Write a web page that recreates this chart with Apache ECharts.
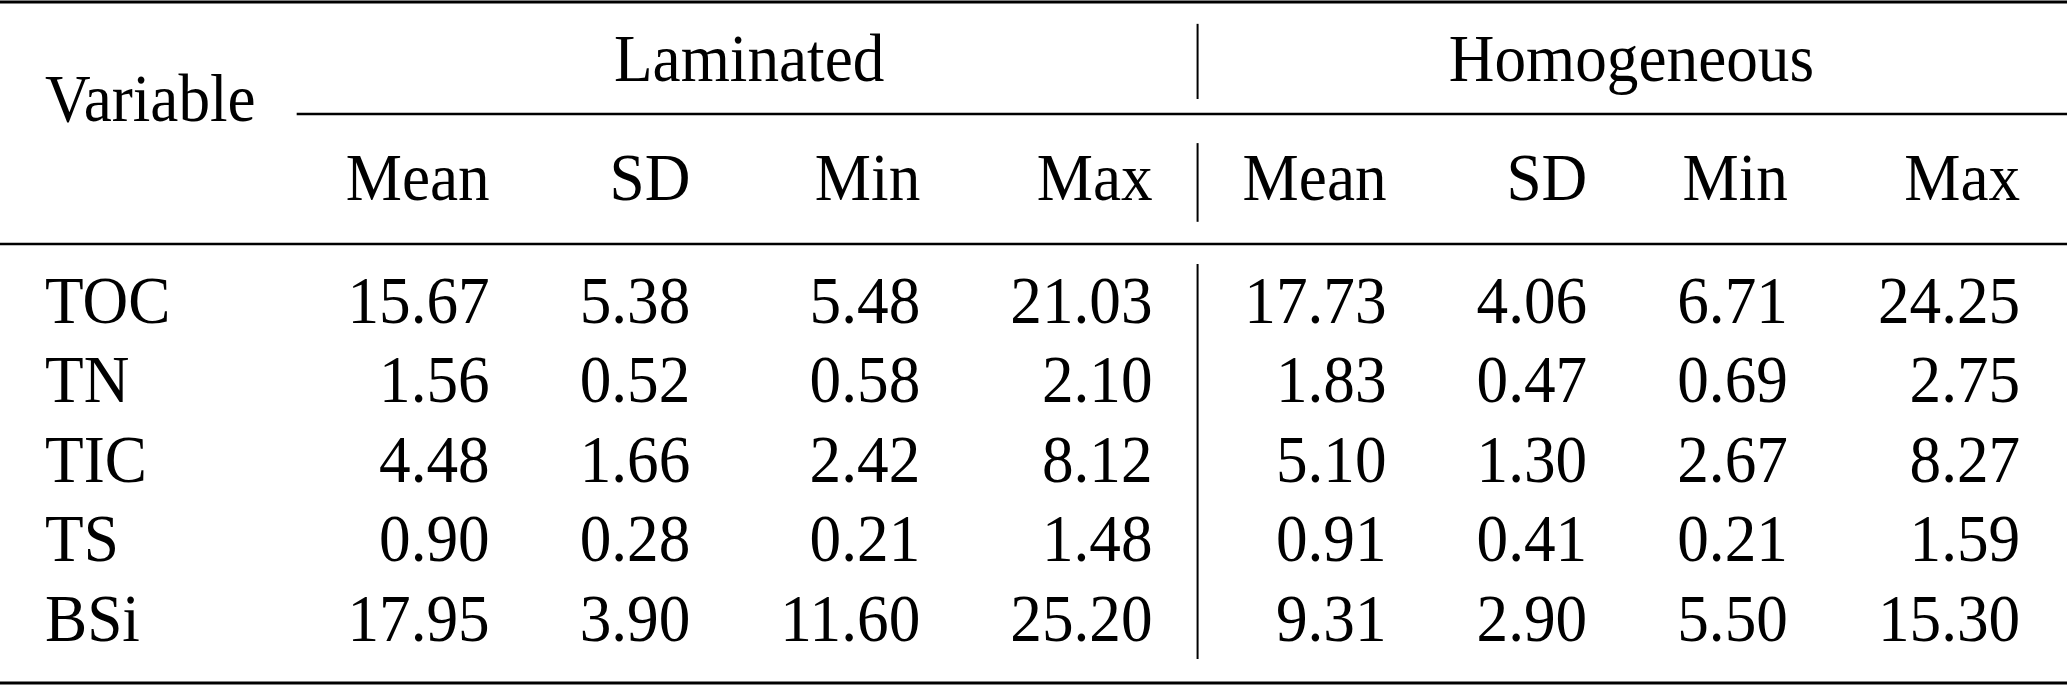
<!DOCTYPE html>
<html>
<head>
<meta charset="utf-8">
<script src="https://cdn.jsdelivr.net/npm/echarts@6/dist/echarts.min.js"></script>
<style>
  html, body { margin: 0; padding: 0; background: #fff; }
  #main { width: 2067px; height: 686px; }
</style>
</head>
<body>
<div id="main"></div>
<script>
// table content
var variables = ['TOC', 'TN', 'TIC', 'TS', 'BSi'];
var groups = ['Laminated', 'Homogeneous'];
var stats = ['Mean', 'SD', 'Min', 'Max'];

var lamMean = [15.67, 1.56, 4.48, 0.90, 17.95];
var lamSD   = [5.38, 0.52, 1.66, 0.28, 3.90];
var lamMin  = [5.48, 0.58, 2.42, 0.21, 11.60];
var lamMax  = [21.03, 2.10, 8.12, 1.48, 25.20];
var homMean = [17.73, 1.83, 5.10, 0.91, 9.31];
var homSD   = [4.06, 0.47, 1.30, 0.41, 2.90];
var homMin  = [6.71, 0.69, 2.67, 0.21, 5.50];
var homMax  = [24.25, 2.75, 8.27, 1.59, 15.30];

var columns = [lamMean, lamSD, lamMin, lamMax, homMean, homSD, homMin, homMax];

// typesetting
var FONT_PX = 68;
var FAMILY = 'Liberation Serif';
var SX = 0.93;        // glyphs are a bit narrower than tall
var SEP = 45;         // half gap between columns (px)
var LINE = 79.5;      // baselineskip (px), y axis unit

var ctx = document.createElement('canvas').getContext('2d');
ctx.font = FONT_PX + 'px "' + FAMILY + '"';
function textW(t) { return ctx.measureText(t).width * SX; }

// column texts
var colTexts = [['Variable'].concat(variables)];
columns.forEach(function (vals, j) {
    colTexts.push([stats[j % 4]].concat(vals.map(function (v) { return v.toFixed(2); })));
});

// column edges from content widths
var colLeft = [], colRight = [];
colTexts.forEach(function (texts, j) {
    var w = Math.max.apply(null, texts.map(textW));
    colLeft[j] = j === 0 ? SEP : colRight[j - 1] + 2 * SEP;
    colRight[j] = colLeft[j] + w;
});
var divider = colRight[4] + SEP;
var totalW = colRight[8] + SEP;

// row positions, in lines
var yGroup = 0.792, yVariable = 1.295, yStats = 2.289, yFirst = 3.836;
var yTop = 0.025, yCmid = 1.434, yMid = 3.069, yBottom = 8.59;

var cells = [];
cells.push({x: colLeft[0], y: yVariable, text: 'Variable', align: 'left'});
cells.push({x: (colLeft[1] - SEP + divider) / 2, y: yGroup, text: groups[0], align: 'center'});
cells.push({x: (divider + totalW) / 2, y: yGroup, text: groups[1], align: 'center'});
variables.forEach(function (v, i) {
    cells.push({x: colLeft[0], y: yFirst + i, text: v, align: 'left'});
});
for (var j = 1; j <= 8; j++) {
    colTexts[j].forEach(function (t, i) {
        cells.push({x: colRight[j], y: i === 0 ? yStats : yFirst + i - 1, text: t, align: 'right'});
    });
}

var rules = [
    [0, yTop, totalW + 2, yTop, 3],
    [colLeft[1] - SEP - 4, yCmid, totalW + 2, yCmid, 2.5],
    [0, yMid, totalW + 2, yMid, 2.5],
    [0, yBottom, totalW + 2, yBottom, 3],
    [divider, 0.30, divider, 1.245, 2],
    [divider, 1.80, divider, 2.79, 2],
    [divider, 3.32, divider, 8.29, 2]
];

var chart = echarts.init(document.getElementById('main'));
var option = {
    backgroundColor: '#fff',
    animation: false,
    grid: {left: 0, top: 0, width: totalW, height: 686},
    xAxis: {type: 'value', min: 0, max: totalW, show: false},
    yAxis: {type: 'value', min: 0, max: 686 / LINE, inverse: true, show: false},
    series: [
        {
            type: 'custom',
            data: rules.map(function (r) { return [r[0], r[1], r[2], r[3]]; }),
            renderItem: function (params, api) {
                var r = rules[params.dataIndex];
                var p1 = api.coord([r[0], r[1]]);
                var p2 = api.coord([r[2], r[3]]);
                return {
                    type: 'line',
                    shape: {x1: p1[0], y1: p1[1], x2: p2[0], y2: p2[1]},
                    style: {stroke: '#000', lineWidth: r[4]}
                };
            }
        }
    ]
};
chart.setOption(option);

// cell texts, placed through the grid's axes
chart.setOption({
    graphic: cells.map(function (c) {
        var p = chart.convertToPixel({gridIndex: 0}, [c.x, c.y]);
        return {
            type: 'text',
            x: p[0],
            y: p[1],
            scaleX: SX,
            style: {
                text: c.text,
                fontFamily: FAMILY,
                fontSize: FONT_PX,
                fill: '#000',
                align: c.align,
                verticalAlign: 'middle'
            }
        };
    })
});
</script>
</body>
</html>
